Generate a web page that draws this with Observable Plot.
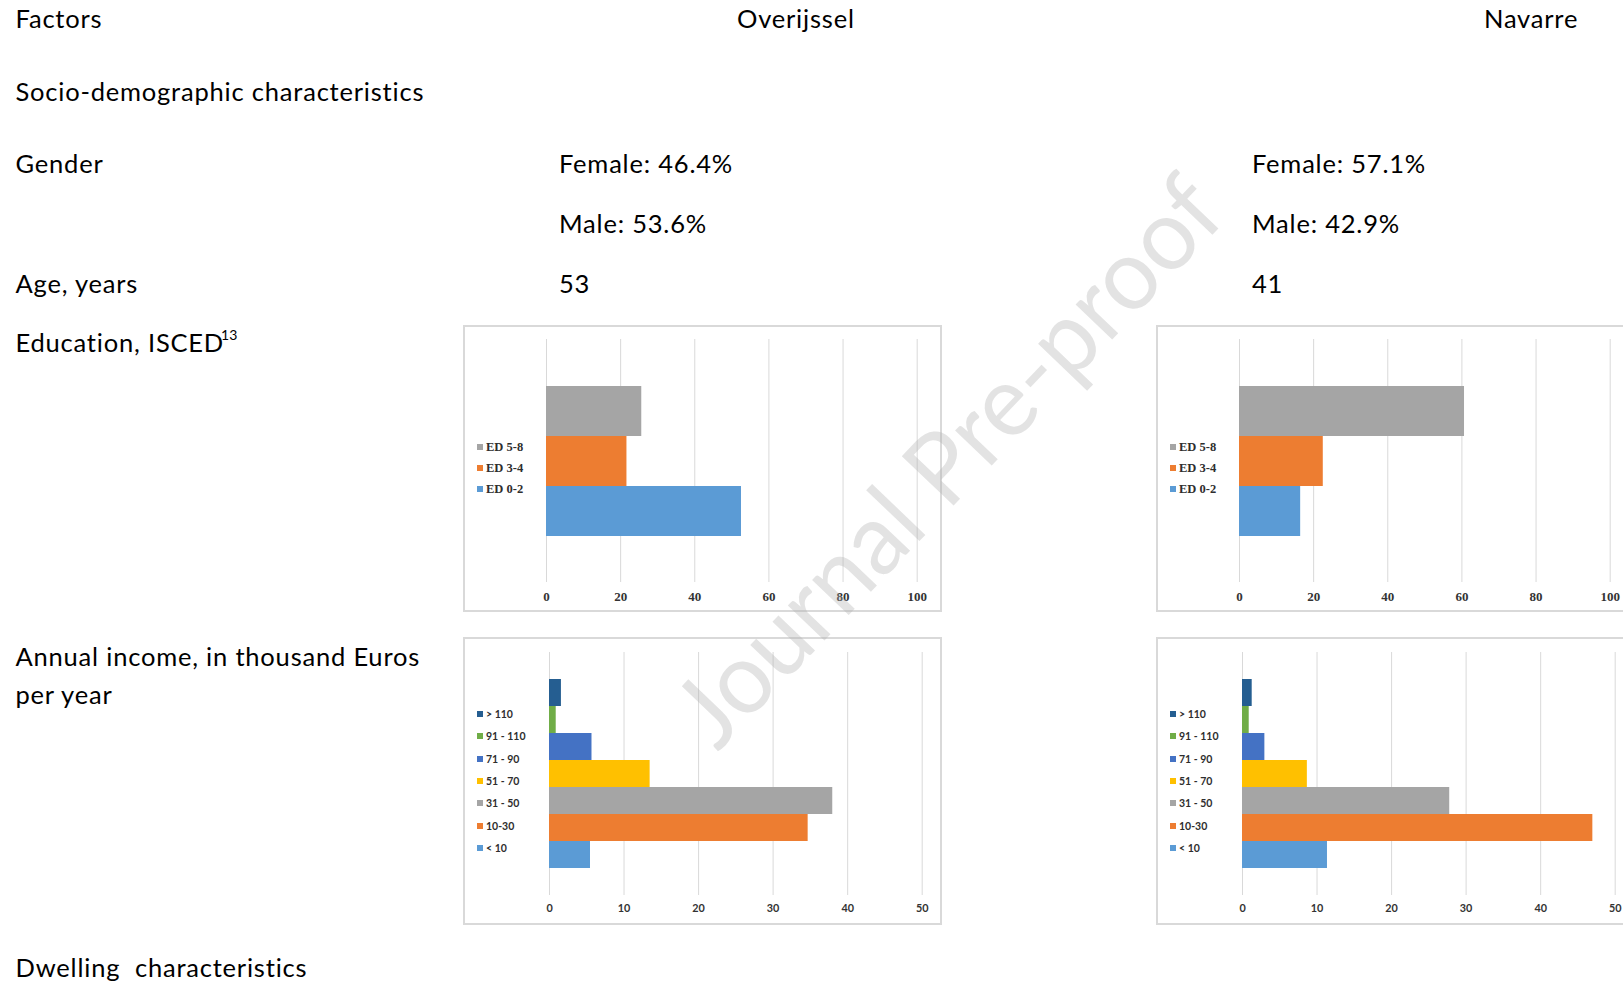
<!DOCTYPE html>
<html><head><meta charset="utf-8">
<script src="https://cdn.jsdelivr.net/npm/d3@7"></script>
<script src="https://cdn.jsdelivr.net/npm/@observablehq/plot@0.6"></script>
<style>
html,body{margin:0;padding:0;background:#fff;overflow:hidden;width:1623px;height:983px;}
#page{position:relative;width:1623px;height:983px;overflow:hidden;background:#fff;}
.chart{position:absolute;border:2px solid #d9d9d9;background:#fff;box-sizing:border-box;}
.chart svg{display:block;}
.legend-item{position:absolute;display:flex;align-items:center;white-space:nowrap;height:14px;color:#2e2e2e;}
.sw{width:6px;height:6px;margin-right:3px;flex:none;}
#overlay{position:absolute;left:0;top:0;pointer-events:none;}
</style></head><body><div id="page"></div>
<script>
// ---------- data ----------
const regions = ["Overijssel", "Navarre"];
const genderFemale = [46.4, 57.1];
const genderMale = [53.6, 42.9];
const ageYears = [53, 41];

const educationLevels = ["ED 5-8", "ED 3-4", "ED 0-2"];
const educationOverijssel = [25.7, 21.7, 52.6];
const educationNavarre = [60.7, 22.6, 16.5];
const educationColors = ["#a5a5a5", "#ed7d31", "#5b9bd5"];
const educationTicks = [0, 20, 40, 60, 80, 100];

const incomeBands = ["> 110", "91 - 110", "71 - 90", "51 - 70", "31 - 50", "10-30", "< 10"];
const incomeOverijssel = [1.6, 0.9, 5.7, 13.5, 38.0, 34.7, 5.5];
const incomeNavarre = [1.3, 0.9, 3.0, 8.7, 27.8, 47.0, 11.4];
const incomeColors = ["#255e91", "#70ad47", "#4472c4", "#ffc000", "#a5a5a5", "#ed7d31", "#5b9bd5"];
const incomeTicks = [0, 10, 20, 30, 40, 50];

// ---------- charts ----------
const page = document.getElementById("page");

function barChart(o) {
  const div = document.createElement("div");
  div.className = "chart";
  Object.assign(div.style, {left: o.left + "px", top: o.top + "px", width: o.outerW + "px", height: o.outerH + "px"});
  const data = o.cats.map((c, i) => ({cat: c, value: o.values[i]}));
  const ticks = o.ticks;
  const plot = Plot.plot({
    width: o.outerW - 4,
    height: o.outerH - 4,
    marginLeft: o.mL, marginRight: o.mR, marginTop: o.mT, marginBottom: o.mB,
    style: {background: "transparent", overflow: "visible", fontFamily: o.tickFont, fontSize: o.tickSize + "px", fontWeight: "bold", color: "#333"},
    x: {domain: [ticks[0], ticks[ticks.length - 1]], axis: null},
    y: {type: "band", domain: o.cats, paddingInner: 0, paddingOuter: o.padOuter, axis: null},
    color: {domain: o.cats, range: o.colors},
    marks: [
      Plot.gridX(ticks, {stroke: "#d9d9d9", strokeOpacity: 1, strokeWidth: 1}),
      Plot.barX(data, {x: "value", y: "cat", fill: "cat"}),
      Plot.axisX(ticks, {tickSize: 0, tickPadding: o.tickPadding, label: null})
    ]
  });
  div.appendChild(plot);
  o.cats.forEach((c, i) => {
    const item = document.createElement("div");
    item.className = "legend-item";
    Object.assign(item.style, {left: "12px", top: (o.legTop + i * o.legStep - 7) + "px", fontFamily: o.legFont, fontSize: o.legSize + "px", fontWeight: "bold"});
    const sw = document.createElement("span");
    sw.className = "sw";
    sw.style.background = o.colors[i];
    const tx = document.createElement("span");
    tx.textContent = c;
    item.appendChild(sw); item.appendChild(tx);
    div.appendChild(item);
  });
  page.appendChild(div);
}

const shift = 693;
const eduCommon = {top: 325, outerW: 479, outerH: 287, mL: 81, mR: 23.3, mT: 12, mB: 28, padOuter: 0.915,
  cats: educationLevels, colors: educationColors, ticks: educationTicks,
  tickFont: "'Liberation Serif', serif", tickSize: 13, tickPadding: 9,
  legFont: "'Liberation Serif', serif", legSize: 12.5, legTop: 120, legStep: 21};
const incCommon = {top: 637, outerW: 479, outerH: 288, mL: 84, mR: 18.3, mT: 13, mB: 28, padOuter: 0.93,
  cats: incomeBands, colors: incomeColors, ticks: incomeTicks,
  tickFont: "Lato, sans-serif", tickSize: 10.8, tickPadding: 9,
  legFont: "Lato, sans-serif", legSize: 10.5, legTop: 75, legStep: 22.35};

barChart({...eduCommon, left: 463, values: educationOverijssel});
barChart({...eduCommon, left: 463 + shift, values: educationNavarre});
barChart({...incCommon, left: 463, values: incomeOverijssel});
barChart({...incCommon, left: 463 + shift, values: incomeNavarre});

// ---------- table text + watermark ----------
const svg = d3.create("svg").attr("id", "overlay").attr("width", 1623).attr("height", 983)
  .style("font-family", "Lato, sans-serif").style("font-size", "25.5px").style("letter-spacing", "0.8px").style("fill", "#000");
function label(x, y, text) {
  return svg.append("text").attr("x", x).attr("y", y).text(text);
}
const colX = [559, 1252];
label(15.5, 27.5, "Factors");
label(737, 27.5, regions[0]);
label(1484, 27.5, regions[1]);
label(15.5, 101, "Socio-demographic characteristics");
label(15.5, 173, "Gender");
label(15.5, 293.3, "Age, years");
const edu = label(15.5, 352, "Education, ISCED");
edu.append("tspan").attr("dy", -12).attr("dx", -3).style("font-size", "14px").style("letter-spacing", "0px").text("13");
label(15.5, 666, "Annual income, in thousand Euros");
label(15.5, 704.3, "per year");
label(15.5, 977, "Dwelling  characteristics").style("white-space", "pre");
regions.forEach((r, i) => {
  label(colX[i], 173, `Female: ${genderFemale[i].toFixed(1)}%`);
  label(colX[i], 232.7, `Male: ${genderMale[i].toFixed(1)}%`);
  label(colX[i], 293.3, String(ageYears[i]));
});
svg.append("text")
  .attr("transform", "translate(945,458) rotate(-46.3)")
  .attr("text-anchor", "middle").attr("dominant-baseline", "central")
  .attr("textLength", 740).attr("lengthAdjust", "spacingAndGlyphs")
  .style("font-size", "100px").style("font-weight", 400).style("letter-spacing", "0px")
  .style("fill", "#b0b0b0").style("fill-opacity", 0.35)
  .text("Journal Pre-proof");
page.appendChild(svg.node());
</script></body></html>
